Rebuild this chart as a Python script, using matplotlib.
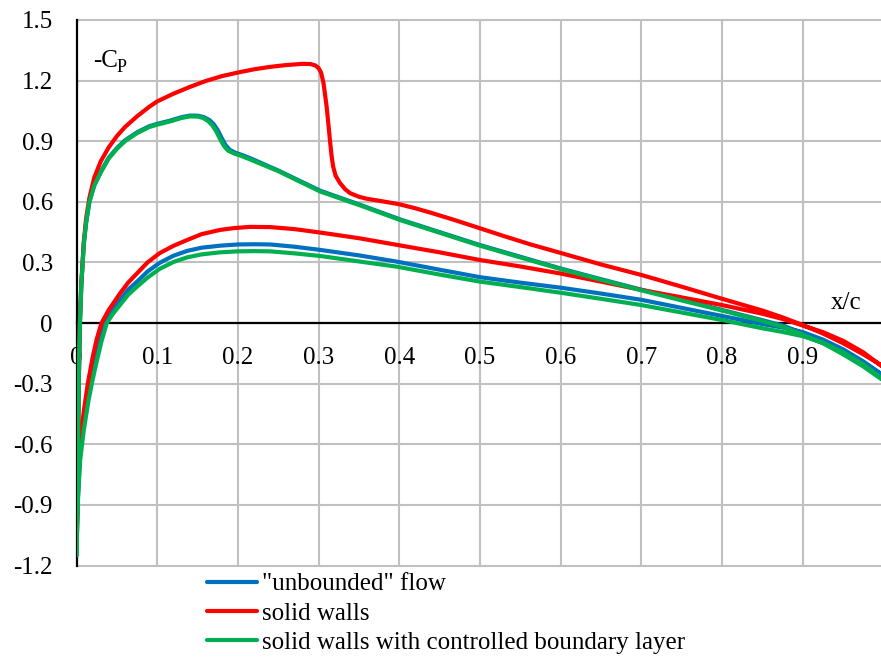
import matplotlib
matplotlib.use("Agg")
import matplotlib.pyplot as plt

plt.rcParams['font.family'] = ['Liberation Serif', 'DejaVu Serif']
plt.rcParams['axes.unicode_minus'] = False

# Pressure distributions (-Cp vs x/c), upper and lower surfaces per case
x_red_up = [0.0, 0.001, 0.002, 0.003, 0.004, 0.006, 0.009, 0.012, 0.016, 0.022, 0.03, 0.04,
            0.05, 0.06, 0.075, 0.09, 0.1, 0.12, 0.14, 0.16, 0.18, 0.2, 0.22, 0.24, 0.26,
            0.28, 0.29, 0.296, 0.300, 0.303, 0.306, 0.308, 0.310, 0.312, 0.314, 0.316,
            0.318, 0.321, 0.3265, 0.333, 0.339, 0.35, 0.36, 0.38, 0.40, 0.42, 0.44, 0.47,
            0.50, 0.53, 0.562, 0.60, 0.65, 0.70, 0.75, 0.80, 0.85, 0.875, 0.90, 0.925,
            0.95, 0.975, 1.0]
cp_red_up = [-1.15, -0.85, -0.55, -0.25, 0.0, 0.2, 0.4, 0.52, 0.62, 0.72, 0.8, 0.87,
             0.925, 0.97, 1.023, 1.07, 1.097, 1.135, 1.168, 1.198, 1.222, 1.24, 1.256,
             1.268, 1.277, 1.283, 1.282, 1.275, 1.262, 1.24, 1.19, 1.13, 1.07, 0.99, 0.907,
             0.83, 0.775, 0.73, 0.693, 0.662, 0.643, 0.625, 0.615, 0.602, 0.588, 0.568,
             0.545, 0.508, 0.469, 0.43, 0.39, 0.347, 0.29, 0.238, 0.18, 0.12, 0.062, 0.028,
             -0.01, -0.052, -0.1, -0.155, -0.215]

x_red_lo = [0.0, 0.001, 0.002, 0.004, 0.007, 0.01, 0.014, 0.02, 0.025, 0.031, 0.04, 0.054,
            0.064, 0.075, 0.088, 0.103, 0.12, 0.137, 0.155, 0.178, 0.195, 0.215, 0.24,
            0.27, 0.302, 0.35, 0.397, 0.45, 0.50, 0.55, 0.60, 0.65, 0.70, 0.75, 0.80,
            0.85, 0.875, 0.90, 0.925, 0.95, 0.975, 1.0]
cp_red_lo = [-1.15, -0.95, -0.82, -0.64, -0.5, -0.41, -0.3, -0.17, -0.08, 0.0, 0.065,
             0.147, 0.2, 0.246, 0.3, 0.346, 0.382, 0.411, 0.44, 0.461, 0.47, 0.476, 0.475,
             0.465, 0.448, 0.42, 0.387, 0.35, 0.312, 0.28, 0.245, 0.205, 0.164, 0.127, 0.089,
             0.046, 0.02, -0.012, -0.045, -0.088, -0.145, -0.22]

x_grn_up = [0.0, 0.001, 0.002, 0.003, 0.0043, 0.006, 0.009, 0.012, 0.016, 0.022, 0.03,
            0.04, 0.05, 0.06, 0.075, 0.09, 0.1, 0.116, 0.13, 0.141, 0.15, 0.157, 0.163,
            0.168, 0.173, 0.178, 0.183, 0.188, 0.195, 0.205, 0.215, 0.25, 0.302, 0.351,
            0.401, 0.45, 0.50, 0.55, 0.60, 0.65, 0.70, 0.75, 0.80, 0.85, 0.875, 0.90,
            0.925, 0.95, 0.975, 1.0]
cp_grn_up = [-1.15, -0.85, -0.55, -0.25, 0.0, 0.19, 0.39, 0.5, 0.6, 0.68, 0.745,
             0.815, 0.862, 0.9, 0.94, 0.97, 0.982, 0.998, 1.015, 1.023, 1.022, 1.015, 1.0,
             0.98, 0.95, 0.91, 0.875, 0.853, 0.84, 0.826, 0.81, 0.752, 0.651, 0.583,
             0.51, 0.447, 0.383, 0.325, 0.267, 0.214, 0.162, 0.112, 0.062, 0.01, -0.018,
             -0.058, -0.1, -0.155, -0.215, -0.285]

x_grn_lo = [0.0, 0.001, 0.002, 0.0045, 0.009, 0.015, 0.02, 0.025, 0.031, 0.0375, 0.045,
            0.054, 0.064, 0.075, 0.088, 0.103, 0.12, 0.137, 0.155, 0.178, 0.2, 0.22, 0.24,
            0.27, 0.302, 0.35, 0.397, 0.45, 0.50, 0.55, 0.60, 0.65, 0.70, 0.75, 0.80,
            0.85, 0.875, 0.90, 0.925, 0.95, 0.975, 1.0]
cp_grn_lo = [-1.15, -0.97, -0.86, -0.68, -0.53, -0.38, -0.28, -0.19, -0.09, 0.0, 0.045,
             0.09, 0.14, 0.18, 0.225, 0.268, 0.302, 0.325, 0.34, 0.35, 0.355, 0.356, 0.355,
             0.345, 0.332, 0.305, 0.279, 0.24, 0.205, 0.178, 0.15, 0.12, 0.089, 0.052, 0.015,
             -0.026, -0.044, -0.065, -0.098, -0.145, -0.205, -0.28]

x_blu_up = [0.0, 0.001, 0.002, 0.003, 0.0043, 0.006, 0.009, 0.012, 0.016, 0.022, 0.03,
            0.04, 0.05, 0.06, 0.075, 0.09, 0.1, 0.116, 0.13, 0.141, 0.151, 0.158, 0.165,
            0.17, 0.175, 0.18, 0.185, 0.19, 0.197, 0.207, 0.217, 0.25, 0.302, 0.351,
            0.401, 0.45, 0.50, 0.55, 0.60, 0.65, 0.70, 0.75, 0.80, 0.85, 0.875, 0.90,
            0.925, 0.95, 0.975, 1.0]
cp_blu_up = [-1.15, -0.85, -0.55, -0.25, 0.0, 0.19, 0.39, 0.5, 0.602, 0.683, 0.749,
             0.819, 0.866, 0.904, 0.944, 0.974, 0.986, 1.002, 1.019, 1.027, 1.026, 1.019,
             1.004, 0.984, 0.955, 0.915, 0.879, 0.857, 0.843, 0.829, 0.813, 0.755, 0.655,
             0.586, 0.513, 0.45, 0.386, 0.328, 0.27, 0.217, 0.165, 0.115, 0.065, 0.014,
             -0.012, -0.05, -0.09, -0.14, -0.195, -0.26]

x_blu_lo = [0.0, 0.001, 0.002, 0.0043, 0.0085, 0.014, 0.019, 0.024, 0.029, 0.034, 0.042,
            0.054, 0.064, 0.075, 0.088, 0.103, 0.12, 0.137, 0.155, 0.178, 0.2, 0.22, 0.24,
            0.27, 0.302, 0.35, 0.397, 0.45, 0.50, 0.55, 0.60, 0.65, 0.70, 0.75, 0.80,
            0.85, 0.875, 0.90, 0.925, 0.95, 0.975, 1.0]
cp_blu_lo = [-1.15, -0.96, -0.84, -0.65, -0.5, -0.36, -0.25, -0.15, -0.07, 0.0, 0.058,
             0.114, 0.165, 0.205, 0.255, 0.298, 0.333, 0.357, 0.373, 0.383, 0.389, 0.39,
             0.389, 0.378, 0.362, 0.335, 0.304, 0.264, 0.227, 0.2, 0.175, 0.146, 0.115,
             0.075, 0.035, -0.005, -0.022, -0.045, -0.082, -0.13, -0.19, -0.26]

series_names = ['"unbounded" flow', 'solid walls', 'solid walls with controlled boundary layer']
series_colors = ['#0070C0', '#FF0000', '#00B050']

x_ticks = [0.0, 0.1, 0.2, 0.3, 0.4, 0.5, 0.6, 0.7, 0.8, 0.9, 1.0]
x_tick_labels = ['0', '0.1', '0.2', '0.3', '0.4', '0.5', '0.6', '0.7', '0.8', '0.9', '']
y_ticks = [-1.2, -0.9, -0.6, -0.3, 0.0, 0.3, 0.6, 0.9, 1.2, 1.5]
y_tick_labels = ['-1.2', '-0.9', '-0.6', '-0.3', '0', '0.3', '0.6', '0.9', '1.2', '1.5']

W, H = 881, 663
fig = plt.figure(figsize=(W / 100, H / 100), dpi=100)
ax = fig.add_axes([76.5 / W, (H - 565.5) / H, 807 / W, (565.5 - 20) / H])
ax.set_xlim(0, 1)
ax.set_ylim(-1.2, 1.5)

lw = 3.0
cases = [
    (x_blu_up, cp_blu_up, x_blu_lo, cp_blu_lo),
    (x_red_up, cp_red_up, x_red_lo, cp_red_lo),
    (x_grn_up, cp_grn_up, x_grn_lo, cp_grn_lo),
]
for (xu, yu, xl, yl), name, col in zip(cases, series_names, series_colors):
    xs = list(reversed(xu)) + list(xl[1:])
    ys = list(reversed(yu)) + list(yl[1:])
    ax.plot(xs, ys, color=col, lw=lw, label=name, solid_joinstyle='round',
            solid_capstyle='round', zorder=3)

ax.set_xticks(x_ticks)
ax.set_xticklabels(x_tick_labels)
ax.set_yticks(y_ticks)
ax.set_yticklabels(y_tick_labels)
ax.tick_params(axis='both', length=0, labelsize=18, colors='black')
ax.tick_params(axis='x', pad=17)
ax.tick_params(axis='y', pad=17)

ax.grid(True, color='#c0c0c0', lw=1.5, zorder=0)
ax.set_axisbelow(True)
for gl in ax.get_ygridlines() + ax.get_xgridlines():
    gl.set_clip_on(False)

ax.spines['top'].set_visible(False)
ax.spines['right'].set_visible(False)
ax.spines['bottom'].set_position(('data', 0))
ax.spines['bottom'].set_color('black')
ax.spines['bottom'].set_linewidth(1.6)
ax.spines['bottom'].set_zorder(2)
ax.spines['left'].set_color('black')
ax.spines['left'].set_linewidth(1.6)
ax.spines['left'].set_zorder(2)

# axis titles inside the plot area
fig.text(93 / W, 1 - 67 / H, '-C', fontsize=18, va='baseline', ha='left')
fig.text(117 / W, 1 - 72 / H, 'P', fontsize=13, va='baseline', ha='left')
fig.text(831 / W, 1 - 309 / H, 'x/c', fontsize=18, va='baseline', ha='left')

handles, labels = ax.get_legend_handles_labels()
fig.legend(handles, labels, loc='upper left', bbox_to_anchor=(207 / W, 1 - 573 / H),
           frameon=False, fontsize=18, borderpad=0, borderaxespad=0,
           handlelength=2.0, handletextpad=0.2, labelspacing=0.26)

fig.savefig('out.png', dpi=100)
